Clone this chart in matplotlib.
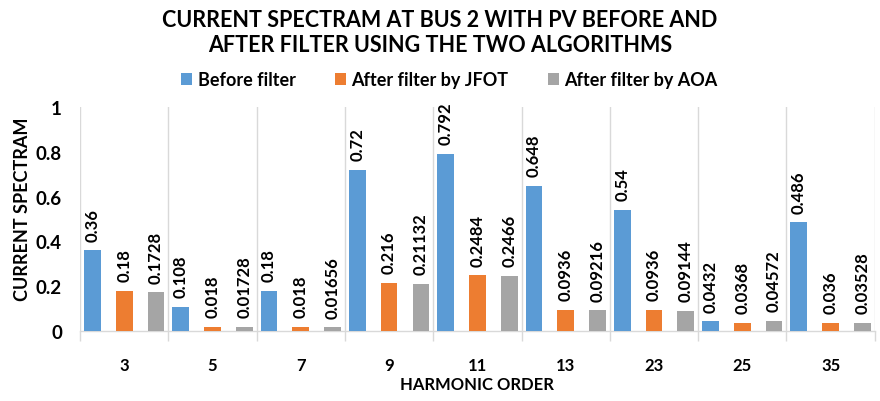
import matplotlib
matplotlib.use("Agg")
import matplotlib.pyplot as plt
import numpy as np

categories = ["3", "5", "7", "9", "11", "13", "23", "25", "35"]
before = [0.36, 0.108, 0.18, 0.72, 0.792, 0.648, 0.54, 0.0432, 0.486]
jfot = [0.18, 0.018, 0.018, 0.216, 0.2484, 0.0936, 0.0936, 0.0368, 0.036]
aoa = [0.1728, 0.01728, 0.01656, 0.21132, 0.2466, 0.09216, 0.09144, 0.04572, 0.03528]
series_names = ["Before filter", "After filter by JFOT", "After filter by AOA"]
colors = ["#5B9BD5", "#ED7D31", "#A5A5A5"]

plt.rcParams['font.family'] = ['Lato', 'DejaVu Sans']
plt.rcParams['font.weight'] = 'bold'

fig = plt.figure(figsize=(8.8, 4.02), dpi=100)
ax = fig.add_axes([0.091, 0.174, 0.903, 0.557])

x = np.arange(len(categories))
offsets = [-0.36, 0.0, 0.36]
width = 0.19
for vals, name, col, off in zip([before, jfot, aoa], series_names, colors, offsets):
    bars = ax.bar(x + off, vals, width, color=col, label=name, zorder=3)
    for b, v in zip(bars, vals):
        ax.annotate(f"{v:g}", (b.get_x() + b.get_width() / 2, v),
                    xytext=(0, 7), textcoords="offset points",
                    rotation=90, ha="center", va="bottom",
                    fontsize=12, fontweight="bold", color="black")

ax.set_xlim(-0.5, len(categories) - 0.5)
ax.set_ylim(0, 1)
ax.set_yticks([0, 0.2, 0.4, 0.6, 0.8, 1.0])
ax.set_yticklabels(["0", "0.2", "0.4", "0.6", "0.8", "1"])
ax.set_xticks(x)
ax.set_xticklabels(categories)
ax.set_xticks(np.arange(len(categories) + 1) - 0.5, minor=True)
ax.tick_params(axis='x', which='major', length=0, pad=19, labelsize=12)
ax.tick_params(axis='x', which='minor', length=7, color="#D9D9D9", width=1)
ax.tick_params(axis='y', length=0, labelsize=13.5, pad=13)
ax.grid(axis='x', which='minor', color="#D9D9D9", linewidth=1, zorder=0)
ax.grid(axis='x', which='major', visible=False)
for s in ["top", "right", "left"]:
    ax.spines[s].set_visible(False)
ax.spines["bottom"].set_color("#D9D9D9")
ax.spines["bottom"].set_linewidth(1)

ax.set_xlabel("HARMONIC ORDER", fontsize=12, fontweight="bold", labelpad=2)
ax.set_ylabel("CURRENT SPECTRAM", fontsize=13, fontweight="bold")
ax.yaxis.set_label_coords(-0.062, 0.55)

fig.suptitle("CURRENT SPECTRAM AT BUS 2 WITH PV BEFORE AND\nAFTER FILTER USING THE TWO ALGORITHMS",
             fontsize=15.5, fontweight="bold", y=0.975, linespacing=1.25)
ax.legend(loc="lower center", bbox_to_anchor=(0.465, 1.035), ncol=3, frameon=False,
          fontsize=13, handlelength=0.6, handleheight=0.6, columnspacing=2.2,
          handletextpad=0.3, borderaxespad=0.2)

fig.savefig("out.png", dpi=100)
